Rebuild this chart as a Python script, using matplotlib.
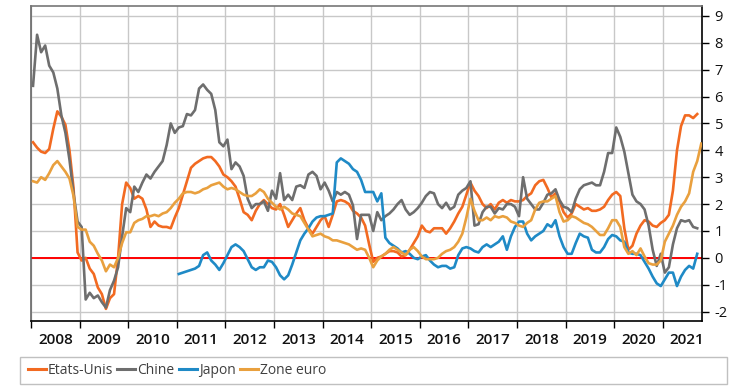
import numpy as np
import matplotlib.pyplot as plt
from matplotlib.patches import Rectangle

# monthly series, first point = Jan 2008
etats_unis = [
    4.3, 4.1, 3.95, 3.9, 4.05, 4.8, 5.45, 5.25, 4.95, 4.0, 2.6, 0.2,
    -0.1, 0.0, -0.4, -0.6, -1.1, -1.35, -1.9, -1.5, -1.35, 0.0, 2.0, 2.8,
    2.6, 2.2, 2.3, 2.2, 1.8, 1.15, 1.35, 1.2, 1.15, 1.15, 1.1, 1.5,
    1.85, 2.35, 2.85, 3.35, 3.5, 3.6, 3.7, 3.75, 3.75, 3.6, 3.4, 3.1,
    3.0, 2.85, 2.65, 2.2, 1.7, 1.6, 1.4, 1.75, 2.0, 2.15, 2.0, 1.85,
    1.8, 2.0, 1.6, 1.15, 1.4, 1.65, 1.85, 1.4, 1.1, 0.9, 1.15, 1.4,
    1.55, 1.15, 1.6, 2.1, 2.15, 2.1, 2.0, 1.75, 1.65, 1.5, 1.2, 0.5,
    -0.15, 0.0, 0.05, 0.15, 0.25, 0.25, 0.2, 0.05, 0.1, 0.3, 0.55, 0.8,
    1.2, 1.0, 0.95, 1.1, 1.1, 1.1, 0.9, 1.1, 1.35, 1.65, 1.9, 2.35,
    2.8, 2.5, 2.3, 2.0, 1.85, 2.0, 1.8, 2.05, 2.15, 2.05, 2.15, 2.1,
    2.1, 2.15, 2.3, 2.4, 2.7, 2.85, 2.9, 2.6, 2.25, 2.4, 2.1, 1.7,
    1.5, 1.65, 2.0, 1.9, 1.8, 1.85, 1.75, 1.75, 1.8, 1.9, 2.15, 2.35,
    2.45, 2.3, 1.1, 0.3, 0.45, 0.9, 1.2, 1.4, 1.35, 1.2, 1.15, 1.3,
    1.4, 1.6, 2.5, 4.0, 4.9, 5.3, 5.3, 5.2, 5.35,
]
chine = [
    6.4, 8.3, 7.65, 7.9, 7.15, 6.9, 6.3, 5.3, 4.65, 3.65, 2.4, 1.35,
    1.15, -1.55, -1.3, -1.5, -1.4, -1.65, -1.85, -1.2, -0.85, -0.35, 0.8, 1.85,
    1.7, 2.65, 2.45, 2.8, 3.1, 2.95, 3.2, 3.4, 3.6, 4.2, 5.0, 4.65,
    4.85, 4.9, 5.35, 5.3, 5.5, 6.3, 6.45, 6.25, 6.1, 5.5, 4.3, 4.15,
    4.4, 3.3, 3.55, 3.4, 3.05, 2.2, 1.85, 2.0, 2.0, 2.1, 1.75, 2.5,
    2.2, 3.15, 2.15, 2.35, 2.15, 2.65, 2.7, 2.6, 3.1, 3.2, 3.05, 2.55,
    2.8, 2.5, 2.1, 2.45, 2.35, 2.45, 2.35, 1.95, 0.7, 1.6, 1.6, 1.6,
    1.0, 1.7, 1.4, 1.55, 1.65, 1.8, 2.0, 2.15, 1.8, 1.6, 1.7, 1.85,
    2.05, 2.3, 2.45, 2.4, 2.0, 1.85, 2.05, 1.8, 1.9, 2.35, 2.5, 2.6,
    2.85, 1.2, 1.25, 1.7, 1.9, 1.9, 1.65, 1.85, 1.8, 2.0, 2.0, 1.9,
    1.55, 3.0, 2.2, 2.0, 1.8, 1.8, 2.05, 2.35, 2.4, 2.55, 2.15, 1.9,
    1.85, 1.7, 2.2, 2.55, 2.7, 2.75, 2.8, 2.7, 2.7, 3.2, 3.9, 3.9,
    4.85, 4.5, 3.95, 3.15, 2.35, 2.1, 2.0, 1.8, 1.2, 0.3, -0.3, 0.15,
    -0.55, -0.35, 0.5, 1.1, 1.4, 1.35, 1.4, 1.15, 1.1,
]
# Japan starts Jan 2011
japon_debut = 36
japon = [
    -0.6, -0.55, -0.5, -0.45, -0.4, -0.3, 0.1, 0.2, -0.1, -0.25, -0.45, -0.2,
    0.1, 0.4, 0.5, 0.4, 0.25, -0.05, -0.35, -0.45, -0.35, -0.35, -0.1, -0.15,
    -0.35, -0.65, -0.8, -0.65, -0.25, 0.2, 0.65, 0.9, 1.1, 1.35, 1.5, 1.55,
    1.55, 1.6, 1.65, 3.55, 3.7, 3.6, 3.5, 3.3, 3.2, 2.9, 2.45, 2.45,
    2.45, 2.1, 2.4, 0.75, 0.55, 0.45, 0.35, 0.2, 0.25, 0.15, 0.0, -0.05,
    0.05, 0.1, -0.1, -0.25, -0.35, -0.3, -0.3, -0.4, -0.35, 0.1, 0.35, 0.4,
    0.35, 0.25, 0.2, 0.4, 0.5, 0.4, 0.5, 0.6, 0.8, 0.3, 0.8, 1.15,
    1.35, 1.35, 0.9, 0.65, 0.8, 0.9, 1.0, 1.25, 1.15, 1.4, 0.8, 0.4,
    0.15, 0.15, 0.55, 0.9, 0.8, 0.75, 0.3, 0.2, 0.2, 0.4, 0.7, 0.85,
    0.8, 0.65, 0.6, 0.2, 0.15, 0.15, 0.1, -0.15, -0.4, -0.7, -0.95, -1.05,
    -0.8, -0.55, -0.55, -1.05, -0.7, -0.45, -0.3, -0.4, 0.15,
]
zone_euro = [
    2.85, 2.8, 3.0, 2.9, 3.15, 3.45, 3.6, 3.4, 3.2, 2.95, 2.3, 1.15,
    1.05, 1.05, 0.6, 0.45, 0.15, -0.1, -0.5, -0.25, -0.35, 0.0, 0.55, 0.95,
    0.95, 1.3, 1.4, 1.45, 1.55, 1.55, 1.6, 1.55, 1.65, 1.7, 1.85, 2.05,
    2.2, 2.4, 2.45, 2.45, 2.4, 2.45, 2.55, 2.6, 2.7, 2.75, 2.8, 2.65,
    2.55, 2.6, 2.55, 2.45, 2.35, 2.3, 2.3, 2.4, 2.55, 2.45, 2.2, 2.05,
    1.9, 1.8, 1.9, 1.8, 1.65, 1.6, 1.55, 1.3, 1.05, 0.8, 0.85, 0.9,
    0.8, 0.75, 0.65, 0.65, 0.6, 0.55, 0.5, 0.4, 0.3, 0.35, 0.3, 0.0,
    -0.35, -0.1, 0.05, 0.15, 0.3, 0.4, 0.3, 0.2, 0.1, 0.3, 0.4, 0.25,
    0.05, -0.05, -0.05, -0.05, 0.0, 0.15, 0.25, 0.3, 0.4, 0.6, 0.9, 1.5,
    2.2, 1.75, 1.4, 1.4, 1.5, 1.4, 1.55, 1.5, 1.55, 1.5, 1.35, 1.3,
    1.2, 1.15, 1.3, 1.4, 1.8, 2.05, 2.1, 2.1, 2.2, 2.3, 1.7, 1.35,
    1.4, 1.55, 1.5, 1.4, 1.3, 1.25, 1.15, 1.0, 0.85, 0.85, 1.1, 1.4,
    1.4, 1.15, 0.4, 0.15, 0.25, 0.1, 0.35, 0.05, -0.2, -0.25, -0.25, -0.1,
    0.6, 0.9, 1.2, 1.6, 1.9, 2.1, 2.4, 3.2, 3.6, 4.25,
]
annees = list(range(2008, 2022))
noms = ['Etats-Unis', 'Chine', 'Japon', 'Zone euro']
couleurs = ['#f26a21', '#6e6e6e', '#1f8ac6', '#e9a03e']


def dates(n, debut=0):
    return 2008 + (np.arange(n) + debut + 0.5) / 12


plt.rcParams['font.family'] = ['Open Sans', 'DejaVu Sans']
plt.rcParams['axes.unicode_minus'] = False

fig = plt.figure(figsize=(7.36, 3.89), dpi=100)
ax = fig.add_axes([31 / 736, 1 - 321 / 389, 671 / 736, 315 / 389])

series = [(etats_unis, 0), (chine, 0), (japon, japon_debut), (zone_euro, 0)]
for (vals, debut), nom, c in zip(series, noms, couleurs):
    ax.plot(dates(len(vals), debut), vals, color=c, lw=1.9, label=nom,
            solid_joinstyle='round', zorder=3)

ax.axhline(0, color='#ff0000', lw=1.4, zorder=2)

ax.set_xlim(2008, 2008 + 671 / 48.6)
ax.set_ylim(-2.35, 9.37)

ax.set_xticks(annees)
ax.set_xticks([a + 0.5 for a in annees], minor=True)
ax.set_xticklabels([])
ax.set_xticklabels([str(a) for a in annees], minor=True,
                   fontsize=11, fontweight='semibold', color='#111111')
ax.tick_params(axis='x', which='major', direction='out', length=5,
               width=1, color='black')
ax.tick_params(axis='x', which='minor', length=0, pad=9)

ax.set_yticks(range(-2, 10))
ax.yaxis.tick_right()
ax.tick_params(axis='y', direction='out', length=5, width=1, color='black',
               labelsize=10.5, pad=4, labelcolor='#111111')

ax.grid(True, which='major', color='#c8c8c8', lw=1, zorder=0)
ax.set_axisbelow(True)

ax.spines['right'].set_color('black')
ax.spines['bottom'].set_color('black')
ax.spines['left'].set_color('#666666')
ax.spines['top'].set_color('#777777')
for s in ax.spines.values():
    s.set_linewidth(1.2)

# legend box
fig.patches.append(Rectangle((20 / 736, 1 - 384 / 389), 707 / 736, 27 / 389,
                             transform=fig.transFigure, fill=False,
                             edgecolor='#c0c0c0', lw=1))
leg = fig.legend(loc='center left', bbox_to_anchor=(22 / 736, 1 - 370.5 / 389),
                 ncol=4, frameon=False, handlelength=1.3, handletextpad=0.15,
                 columnspacing=0.3, fontsize=10, borderaxespad=0)
for t in leg.get_texts():
    t.set_color('#404040')
for l in leg.get_lines():
    l.set_linewidth(2.2)

fig.savefig('out.png', dpi=100)
